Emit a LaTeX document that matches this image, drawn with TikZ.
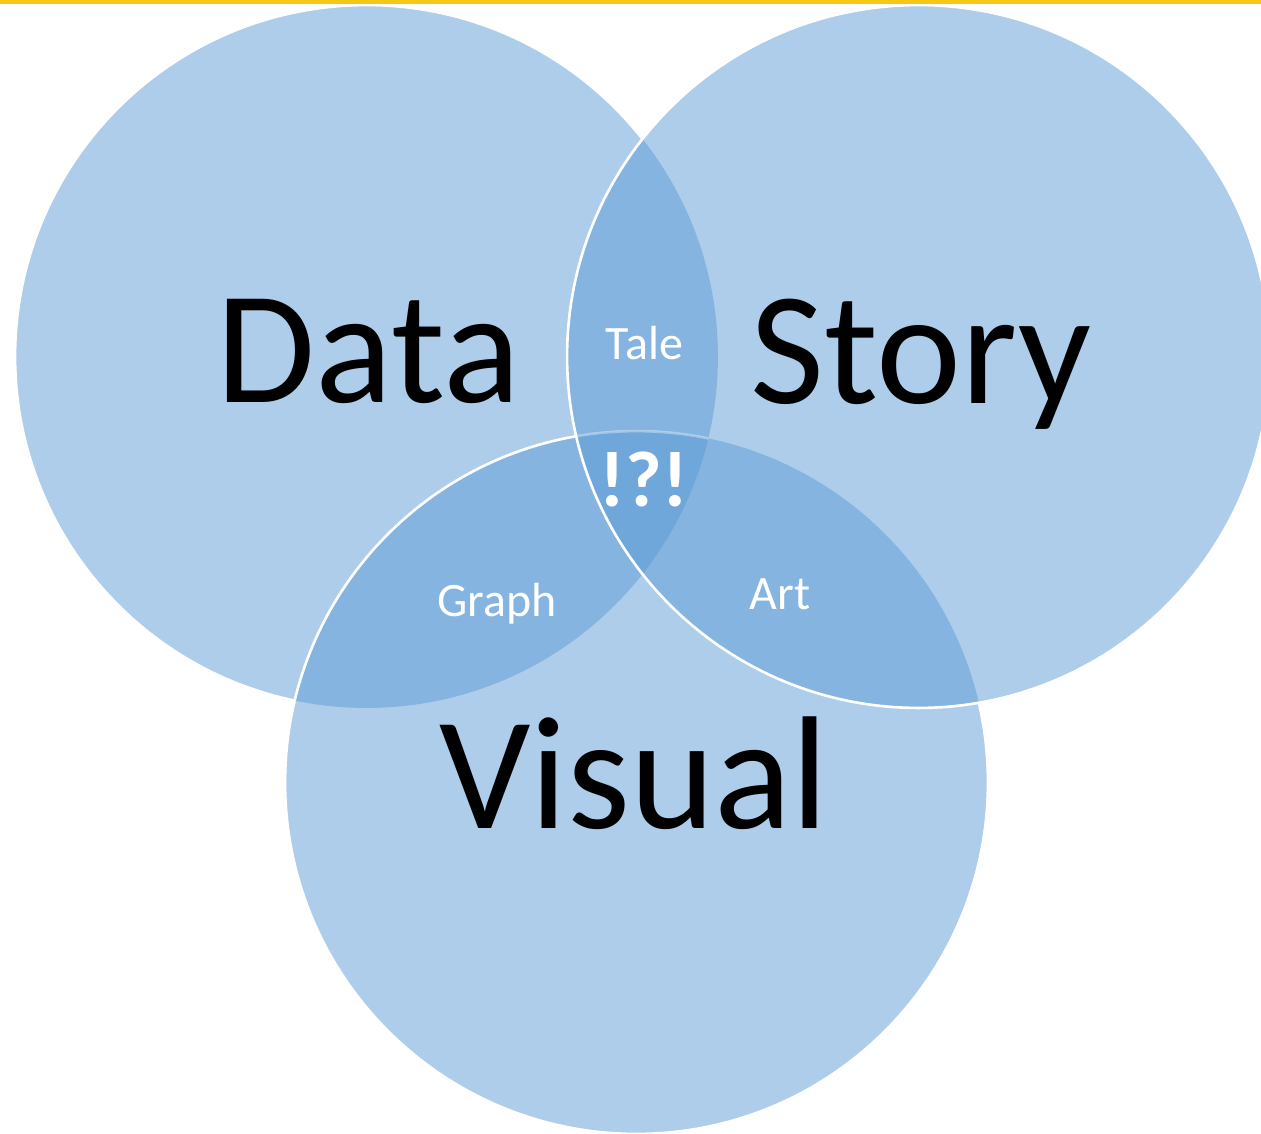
\documentclass[tikz,border=0pt]{standalone}
\usepackage{fontspec}
\setmainfont{Carlito}
\definecolor{vennblue}{RGB}{91,155,213}
\definecolor{topbar}{RGB}{244,200,20}
\tikzset{%
  vennfill/.style={fill=vennblue,fill opacity=0.5},%
  vennline/.style={draw=white,line width=1.5pt},%
  bigword/.style={font=\fontsize{91.6}{100}\selectfont,text=black,anchor=base,inner sep=0pt},%
  smallword/.style={font=\fontsize{27.3}{32}\selectfont,text=white,anchor=base,inner sep=0pt},%
  boldword/.style={font=\fontsize{45}{50}\selectfont\bfseries,text=white,anchor=base,inner sep=0pt},%
}
\newcommand{\vennrad}{7.03cm}
\begin{document}
\begin{tikzpicture}[x=0.02cm,y=-0.02cm]%
\useasboundingbox (0,0) rectangle (1261,1133);%
\coordinate (data) at (366.5,356.5);%
\coordinate (story) at (918.5,356.5);%
\coordinate (visual) at (636.5,782.5);%
\fill[vennfill] (data) circle[radius=\vennrad];%
\fill[vennfill] (visual) circle[radius=\vennrad];%
\fill[vennfill] (story) circle[radius=\vennrad];%
\begin{scope}[even odd rule]%
\clip (-50,-50) rectangle (1311,1183) (visual) circle[radius=\vennrad];%
\begin{scope}[even odd rule]%
\clip (-50,-50) rectangle (1311,1183) (story) circle[radius=\vennrad];%
\draw[vennline] (data) circle[radius=\vennrad];%
\end{scope}%
\end{scope}%
\begin{scope}[even odd rule]%
\clip (-50,-50) rectangle (1311,1183) (story) circle[radius=\vennrad];%
\draw[vennline] (visual) circle[radius=\vennrad];%
\end{scope}%
\begin{scope}%
\clip (story) circle[radius=\vennrad];%
\clip (data) circle[radius=\vennrad];%
\draw[vennline,draw opacity=0.35] (visual) circle[radius=\vennrad];%
\end{scope}%
\draw[vennline] (story) circle[radius=\vennrad];%
\fill[topbar] (0,0) rectangle (1261,3.7);%
\node[bigword] (datatxt) at (368.5,402) {Data};%
\node[bigword] (storytxt) at (921,403) {Story};%
\node[bigword] (visualtxt) at (634,828) {Visual};%
\node[smallword] (taletxt) at (644.7,359.3) {Tale};%
\node[smallword] (graphtxt) at (496.7,616) {Graph};%
\node[smallword] (arttxt) at (780,609.3) {Art};%
\node[boldword] (alltxt) at (644,506) {!?!};%
\end{tikzpicture}
\end{document}
